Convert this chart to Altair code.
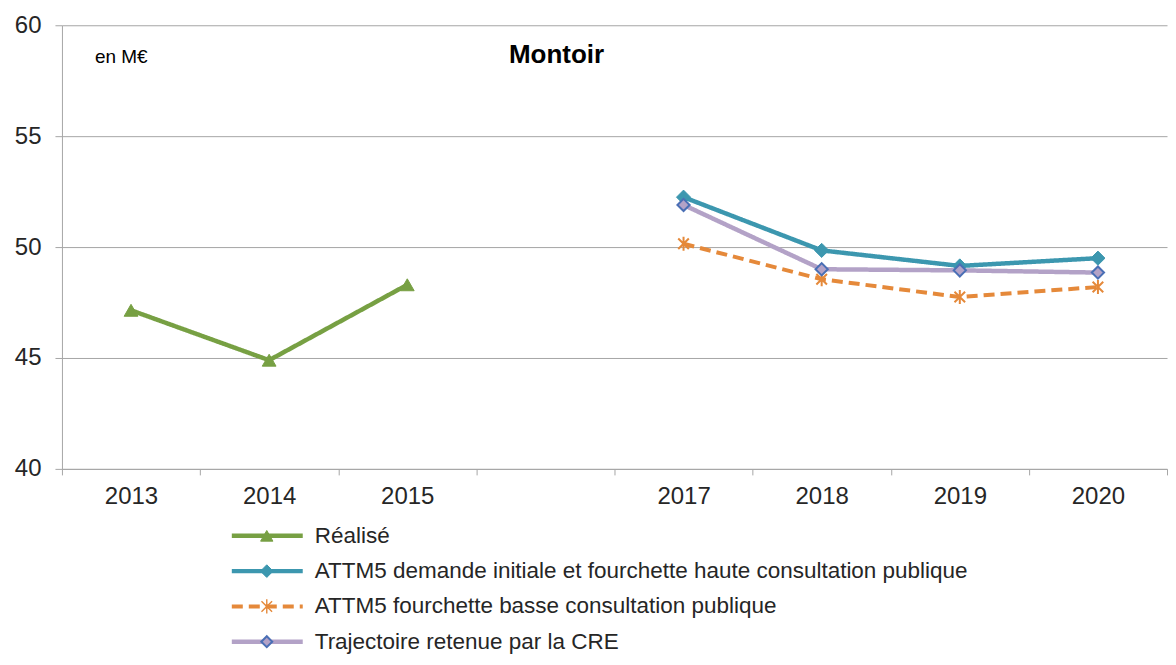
import altair as alt
import pandas as pd

# ---- data ----
years = ["2013", "2014", "2015", "2016", "2017", "2018", "2019", "2020"]
series_names = [
    "Réalisé",
    "ATTM5  demande initiale et fourchette haute consultation publique",
    "ATTM5 fourchette basse consultation publique",
    "Trajectoire retenue par la CRE",
]
realise_years = ["2013", "2014", "2015"]
realise_vals = [47.15, 44.9, 48.3]
proj_years = ["2017", "2018", "2019", "2020"]
haute_vals = [52.25, 49.85, 49.15, 49.5]
basse_vals = [50.15, 48.55, 47.75, 48.2]
cre_vals = [51.9, 49.0, 48.95, 48.85]
y_ticks = [40, 45, 50, 55, 60]

rows = []
for y, v in zip(realise_years, realise_vals):
    rows.append({"series": series_names[0], "year": y, "value": v})
for name, vals in zip(series_names[1:], [haute_vals, basse_vals, cre_vals]):
    for y, v in zip(proj_years, vals):
        rows.append({"series": name, "year": y, "value": v})
df = pd.DataFrame(rows)
leg_df = pd.DataFrame({"series": series_names})

FONT = "Liberation Sans"
GRID = "#a6a6a6"
TXT = "#262626"

ASTERISK = "M-0.75,-0.75L0.75,0.75M-0.75,0.75L0.75,-0.75M0,-1L0,1"

styles = {
    series_names[0]: dict(color="#77A043", dash=[1, 0], width=4.5, shape="triangle-up",
                          fill="#77A043", stroke="#77A043", size=190, sw=1, filled=True),
    series_names[1]: dict(color="#3C97AF", dash=[1, 0], width=4.5, shape="diamond",
                          fill="#3C97AF", stroke="#3C97AF", size=200, sw=1, filled=True),
    series_names[2]: dict(color="#E5893A", dash=[11, 6], width=4, shape=ASTERISK,
                          fill="#E5893A", stroke="#E5893A", size=200, sw=2, filled=False),
    series_names[3]: dict(color="#B3A2C7", dash=[1, 0], width=4.5, shape="diamond",
                          fill="#B3A2C7", stroke="#4A6FB5", size=150, sw=2, filled=True),
}

x_enc = alt.X(
    "year:O",
    scale=alt.Scale(type="band", domain=years, paddingInner=0, paddingOuter=0),
    bandPosition=0.5,
    axis=alt.Axis(
        title=None, tickBand="extent", labelAngle=0, grid=False,
        labelExpr="datum.label == '2016' ? '' : datum.label",
        domainColor=GRID, tickColor=GRID, tickSize=6, labelPadding=10,
        labelFontSize=24, labelFont=FONT, labelColor=TXT,
    ),
)
y_enc = alt.Y(
    "value:Q",
    scale=alt.Scale(domain=[40, 60], nice=False, zero=False),
    axis=alt.Axis(
        title=None, values=y_ticks, grid=True, gridColor=GRID, gridWidth=1,
        domainColor=GRID, tickColor=GRID, tickSize=7, labelPadding=14,
        labelFontSize=24, labelFont=FONT, labelColor=TXT,
    ),
)

layers = []
for name in series_names:
    s = styles[name]
    base = alt.Chart(df).transform_filter(alt.datum.series == name)
    layers.append(
        base.mark_line(color=s["color"], strokeWidth=s["width"], strokeDash=s["dash"])
        .encode(x=x_enc, y=y_enc)
    )
    if s["filled"]:
        pt = base.mark_point(shape=s["shape"], size=s["size"], filled=True, fill=s["fill"],
                             stroke=s["stroke"], strokeWidth=s["sw"], opacity=1)
    else:
        pt = base.mark_point(shape=s["shape"], size=s["size"], filled=False,
                             stroke=s["stroke"], strokeWidth=s["sw"], opacity=1)
    layers.append(pt.encode(x=x_enc, y=y_enc))

title_df = pd.DataFrame({"t": ["Montoir"]})
unit_df = pd.DataFrame({"t": ["en M€"]})
layers.append(
    alt.Chart(title_df).mark_text(font=FONT, fontSize=26, fontWeight="bold", color="#000000",
                                  align="center", baseline="middle")
    .encode(text="t:N", x=alt.value(495), y=alt.value(30))
)
layers.append(
    alt.Chart(unit_df).mark_text(font=FONT, fontSize=19, color="#000000",
                                 align="left", baseline="middle")
    .encode(text="t:N", x=alt.value(33), y=alt.value(32))
)

main = alt.layer(*layers).properties(width=1106, height=444)

# ---- legend panel below ----
leg_y = alt.Y("series:N", scale=alt.Scale(type="point", domain=series_names, padding=0), axis=None)
leg_layers = []
for name in series_names:
    s = styles[name]
    base = alt.Chart(leg_df).transform_filter(alt.datum.series == name)
    leg_layers.append(
        base.mark_rule(color=s["color"], strokeWidth=s["width"], strokeDash=s["dash"])
        .encode(x=alt.value(170), x2=alt.value(241), y=leg_y)
    )
    if s["filled"]:
        pt = base.mark_point(shape=s["shape"], size=s["size"] * 0.8, filled=True, fill=s["fill"],
                             stroke=s["stroke"], strokeWidth=s["sw"], opacity=1)
    else:
        pt = base.mark_point(shape=s["shape"], size=s["size"], filled=False,
                             stroke=s["stroke"], strokeWidth=s["sw"] * 0.7, opacity=1)
    leg_layers.append(pt.encode(x=alt.value(205), y=leg_y))
leg_layers.append(
    alt.Chart(leg_df).mark_text(font=FONT, fontSize=22.5, color=TXT, align="left", baseline="middle")
    .encode(text="series:N", x=alt.value(253), y=leg_y)
)
legend = alt.layer(*leg_layers).properties(width=900, height=106)

chart = (
    alt.vconcat(main, legend, spacing=67, bounds="flush")
    .properties(padding={"left": 6, "top": 5, "right": 0, "bottom": 0})
    .configure_view(stroke=None)
)

chart.save("out.html", embed_options={"renderer": "svg", "actions": False})
